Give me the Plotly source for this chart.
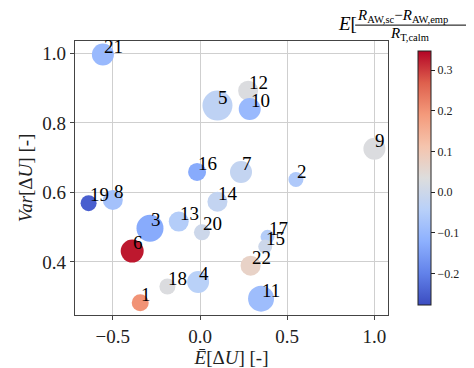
import plotly.graph_objects as go

# Data
point_ids = ["1", "2", "3", "4", "5", "6", "7", "8", "9", "12", "10", "11",
             "13", "14", "17", "15", "16", "18", "19", "20", "21", "22"]
mean_dU = [-0.343, 0.55, -0.287, -0.011, 0.10, -0.389, 0.235, -0.50, 1.00, 0.276, 0.285, 0.35,
           -0.122, 0.10, 0.387, 0.374, -0.017, -0.187, -0.639, 0.011, -0.557, 0.29]
var_dU = [0.282, 0.637, 0.497, 0.342, 0.85, 0.431, 0.659, 0.578, 0.726, 0.893, 0.84, 0.294,
          0.516, 0.573, 0.472, 0.444, 0.659, 0.329, 0.569, 0.485, 0.997, 0.389]
err_mean = [0.20, -0.06, -0.13, -0.04, -0.03, 0.33, -0.02, -0.08, 0.03, 0.03, -0.10, -0.09,
            -0.05, -0.02, -0.05, 0.0, -0.13, 0.03, -0.25, 0.0, -0.10, 0.07]
bubble_size = [17, 15, 27, 22, 30, 23, 22, 20, 22, 20, 22, 26,
               20, 20, 14, 14, 18, 16, 16, 16, 22, 20]

x_ticks = [-0.5, 0.0, 0.5, 1.0]
y_ticks = [0.4, 0.6, 0.8, 1.0]
cbar_ticks = [-0.2, -0.1, 0.0, 0.1, 0.2, 0.3]
cbar_range = [-0.277, 0.347]

coolwarm = [
    [0.0, "rgb(59,76,192)"], [0.125, "rgb(98,130,234)"], [0.25, "rgb(141,176,254)"],
    [0.375, "rgb(184,208,249)"], [0.5, "rgb(221,221,221)"], [0.625, "rgb(245,196,173)"],
    [0.75, "rgb(244,154,123)"], [0.875, "rgb(222,96,77)"], [1.0, "rgb(180,4,38)"],
]

FONT = "Liberation Serif"

fig = go.Figure()
fig.add_trace(go.Scatter(
    x=mean_dU, y=var_dU, mode="markers",
    marker=dict(
        size=bubble_size, sizemode="diameter", color=err_mean,
        colorscale=coolwarm, cmin=cbar_range[0], cmax=cbar_range[1],
        line=dict(width=0), opacity=1,
        colorbar=dict(
            x=1.065, xanchor="left", xref="paper", y=0.5, yanchor="middle",
            len=1.0, lenmode="fraction", thickness=13, thicknessmode="pixels",
            outlinewidth=1, outlinecolor="#222",
            tickvals=cbar_ticks,
            ticktext=[f"{v:.1f}".replace("-", "−") for v in cbar_ticks],
            ticks="outside", ticklen=4, tickcolor="#222",
            tickfont=dict(family=FONT, size=12, color="#222"),
        ),
    ),
    showlegend=False, hoverinfo="skip",
))

for pid, xv, yv in zip(point_ids, mean_dU, var_dU):
    fig.add_annotation(x=xv, y=yv, text=pid, showarrow=False,
                       xanchor="left", yanchor="bottom", yshift=-4, xshift=-1,
                       font=dict(family=FONT, size=19, color="black"))

# colour-bar title as a fraction
fig.add_annotation(xref="paper", yref="paper", x=(337 - 67) / 324, y=(309 - 15) / 276,
                   text="<i>E</i>[", showarrow=False, xanchor="left", yanchor="middle",
                   font=dict(family=FONT, size=19, color="black"))
fig.add_annotation(xref="paper", yref="paper", x=(357 - 67) / 324, y=(309 - 8) / 276,
                   text="<i>R</i><sub>AW,sc</sub>−<i>R</i><sub>AW,emp</sub>", showarrow=False,
                   xanchor="left", yanchor="middle",
                   font=dict(family=FONT, size=15, color="black"))
fig.add_annotation(xref="paper", yref="paper", x=(413 - 67) / 324, y=(309 - 26) / 276,
                   text="<i>R</i><sub>T,calm</sub>", showarrow=False,
                   xanchor="center", yanchor="middle",
                   font=dict(family=FONT, size=15, color="black"))
fig.add_shape(type="line", xref="paper", yref="paper",
              x0=(357 - 67) / 324, x1=(480 - 67) / 324,
              y0=(309 - 17) / 276, y1=(309 - 17) / 276,
              line=dict(color="black", width=1))

axis_common = dict(
    showgrid=True, gridcolor="#cfcfcf", gridwidth=1,
    showline=True, linecolor="#444", linewidth=1.3, mirror=True,
    ticks="outside", ticklen=4, tickcolor="#444",
    tickfont=dict(family=FONT, size=19, color="#222"),
    zeroline=False,
)

fig.update_xaxes(range=[-0.717, 1.078], tickvals=x_ticks,
                 ticktext=[f"{v:.1f}".replace("-", "−") for v in x_ticks],
                 title=dict(text="<i>Ē</i>[Δ<i>U</i>] [-]", standoff=4,
                            font=dict(family=FONT, size=19, color="#222")),
                 **axis_common)
fig.update_yaxes(range=[0.247, 1.036], tickvals=y_ticks,
                 ticktext=[f"{v:.1f}" for v in y_ticks],
                 title=dict(text="<i>Var</i>[Δ<i>U</i>] [-]", standoff=4,
                            font=dict(family=FONT, size=19, color="#222")),
                 **axis_common)

fig.update_layout(
    width=474, height=368,
    margin=dict(l=67, r=83, t=33, b=59),
    plot_bgcolor="white", paper_bgcolor="white",
    font=dict(family=FONT),
)

fig.write_html("out.html")
